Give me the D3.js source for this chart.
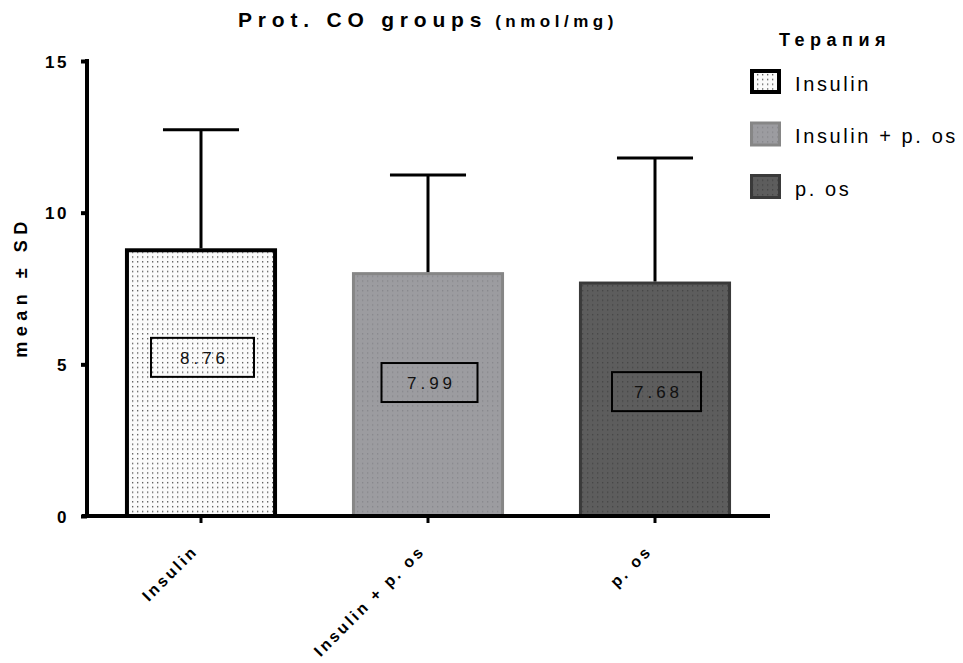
<!DOCTYPE html>
<html><head><meta charset="utf-8">
<script src="https://cdn.jsdelivr.net/npm/d3@7"></script>
<style>
body{margin:0;background:#fff;}
text{font-family:"Liberation Sans",Arial,sans-serif;}
</style></head>
<body><svg id="c" width="963" height="663"></svg>
<script>
const categories = ["Insulin", "Insulin + p. os", "p. os"];
const means = [8.76, 7.99, 7.68];
const sds = [3.97, 3.25, 4.12];
const valueLabels = ["8.76", "7.99", "7.68"];
const labelAt = [5.23, 4.40, 4.10];
const yTicks = [0, 5, 10, 15];
const legendTitle = "Терапия";
const chartTitle = "Prot. CO groups";
const chartUnit = "(nmol/mg)";
const yTitle = "mean ± SD";

// styles
const fills = [
  {bg:"#fbfbfb", dot:"#4a4a4a", stroke:"#000", sw:4},
  {bg:"#9c9ca0", dot:"#85858a", stroke:"#868686", sw:3},
  {bg:"#5d5d5d", dot:"#444444", stroke:"#3a3a3a", sw:3}
];
const boxW = [103, 96, 89];

const svg = d3.select("#c");
const defs = svg.append("defs");
fills.forEach((f,i)=>{
  const p = defs.append("pattern").attr("id","pat"+i).attr("patternUnits","userSpaceOnUse")
    .attr("width",5).attr("height",4.8);
  p.append("rect").attr("width",5).attr("height",4.8).attr("fill",f.bg);
  p.append("rect").attr("x",2).attr("y",2).attr("width",1.3).attr("height",1.3).attr("fill",f.dot);
});

const x = d3.scaleBand().domain(categories).range([87.5, 768.5]).paddingInner(0.33).paddingOuter(0.165);
const y = d3.scaleLinear().domain([0,15]).range([516, 61]);

// title
const t = svg.append("text").attr("x",238).attr("y",27).attr("font-weight","bold")
  .attr("font-size",21).attr("letter-spacing",5.8).attr("fill","#000");
t.append("tspan").text(chartTitle);
t.append("tspan").attr("font-size",17).attr("letter-spacing",4.5).attr("dx",8).text(chartUnit);

// bars
const bars = svg.append("g");
categories.forEach((c,i)=>{
  const f = fills[i];
  bars.append("rect")
    .attr("x", x(c)+f.sw/2).attr("width", x.bandwidth()-f.sw)
    .attr("y", y(means[i])).attr("height", y(0)-y(means[i]))
    .attr("fill","url(#pat"+i+")").attr("stroke",f.stroke).attr("stroke-width",f.sw);
  const cx = x(c)+x.bandwidth()/2;
  // error bar
  bars.append("line").attr("x1",cx).attr("x2",cx).attr("y1",y(means[i])-f.sw/2).attr("y2",y(means[i]+sds[i]))
    .attr("stroke","#000").attr("stroke-width",3);
  bars.append("line").attr("x1",cx-x.bandwidth()/4).attr("x2",cx+x.bandwidth()/4)
    .attr("y1",y(means[i]+sds[i])).attr("y2",y(means[i]+sds[i]))
    .attr("stroke","#000").attr("stroke-width",3);
  // label box
  const by = y(labelAt[i]);
  bars.append("rect").attr("x",cx+1.5-boxW[i]/2).attr("y",by-19.5).attr("width",boxW[i]).attr("height",39)
    .attr("fill","none").attr("stroke","#000").attr("stroke-width",2);
  bars.append("text").attr("x",cx+1.5+2).attr("y",by+6.5).attr("text-anchor","middle")
    .attr("font-size",17).attr("letter-spacing",4).attr("fill","#111").text(valueLabels[i]);
});

// y axis
const ya = svg.append("g").attr("transform","translate(87,0)")
  .call(d3.axisLeft(y).tickValues(yTicks).tickSize(6).tickSizeOuter(0).tickPadding(12));
ya.select(".domain").attr("stroke","#000").attr("stroke-width",4).attr("d","M0,"+(y(15)-2)+"V"+(y(0)));
ya.selectAll(".tick line").attr("stroke","#000").attr("stroke-width",4);
ya.selectAll(".tick text").attr("font-size",17).attr("font-weight","bold").attr("letter-spacing",2.5)
  .attr("font-family","Liberation Sans, Arial, sans-serif").attr("fill","#000").attr("dy","0.36em");

// x axis
const xa = svg.append("g").attr("transform","translate(0,516)")
  .call(d3.axisBottom(x).tickSize(7).tickSizeOuter(0));
xa.select(".domain").attr("stroke","#000").attr("stroke-width",4).attr("d","M82,0H770");
xa.selectAll(".tick line").attr("stroke","#000").attr("stroke-width",3);
xa.selectAll(".tick text")
  .attr("font-size",16).attr("font-weight","bold").attr("letter-spacing",2.8)
  .attr("font-family","Liberation Sans, Arial, sans-serif").attr("fill","#000")
  .attr("text-anchor","end").attr("dy",0).attr("y",0)
  .attr("transform","translate(-2,36) rotate(-45)");

// y title
svg.append("text").attr("transform","translate(27,287) rotate(-90)").attr("text-anchor","middle")
  .attr("font-size",18).attr("font-weight","bold").attr("letter-spacing",5.5).attr("fill","#000").text(yTitle);

// legend
const lg = svg.append("g");
lg.append("text").attr("x",779).attr("y",46).attr("font-size",18).attr("font-weight","bold")
  .attr("letter-spacing",5.5).attr("fill","#000").text(legendTitle);
const ly = d3.scalePoint().domain(categories).range([81.5, 186.5]);
categories.forEach((c,i)=>{
  const f = fills[i];
  const cy = ly(c);
  lg.append("rect").attr("x",750+f.sw/2).attr("y",cy-12.5+f.sw/2).attr("width",31-f.sw).attr("height",25-f.sw)
    .attr("fill","url(#pat"+i+")").attr("stroke",f.stroke).attr("stroke-width",f.sw);
  lg.append("text").attr("x",795).attr("y",cy+9).attr("font-size",20).attr("letter-spacing",2.6)
    .attr("fill","#000").text(c);
});
</script></body></html>
